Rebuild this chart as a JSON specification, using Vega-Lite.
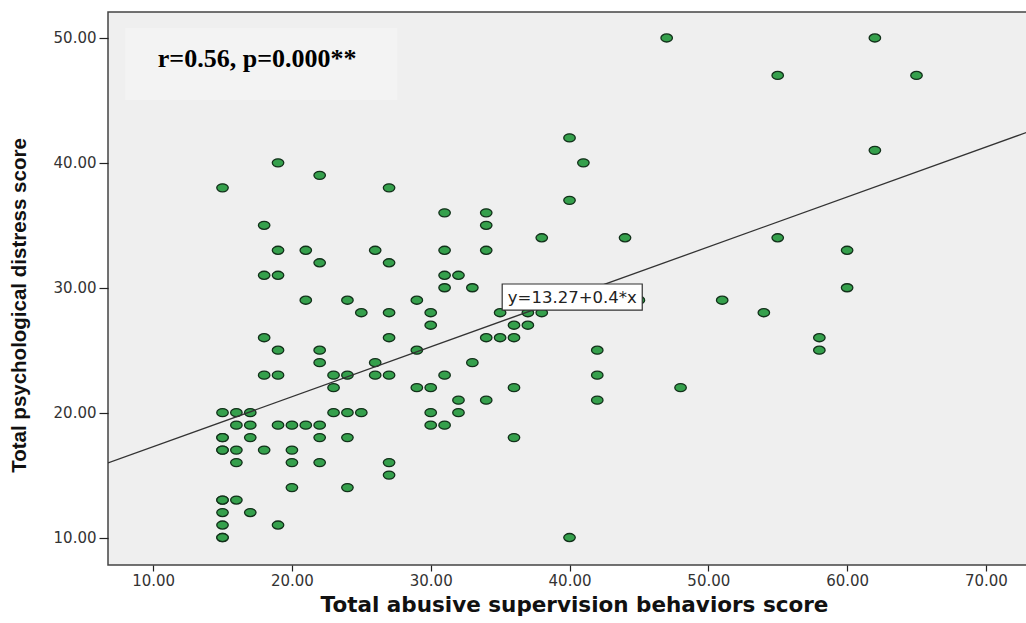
{
  "$schema": "https://vega.github.io/schema/vega-lite/v6.json",
  "width": 919,
  "height": 553,
  "autosize": {"type": "none"},
  "padding": {"left": 108, "top": 12, "right": 0, "bottom": 58},
  "background": "#ffffff",
  "config": {
    "view": {"fill": "#efefef", "stroke": "#444444", "strokeWidth": 1.5},
    "axis": {"grid": false, "domain": false, "labelFont": "DejaVu Sans", "labelFontSize": 15, "labelColor": "#333333", "tickColor": "#222222", "tickWidth": 1.2, "titleColor": "#111111"}
  },
  "datasets": {
    "points": [
      {"abuse": 15, "distress": 38}, {"abuse": 19, "distress": 40}, {"abuse": 22, "distress": 39}, {"abuse": 27, "distress": 38},
      {"abuse": 18, "distress": 35}, {"abuse": 19, "distress": 33}, {"abuse": 21, "distress": 33}, {"abuse": 22, "distress": 32},
      {"abuse": 18, "distress": 31}, {"abuse": 19, "distress": 31}, {"abuse": 21, "distress": 29}, {"abuse": 24, "distress": 29},
      {"abuse": 18, "distress": 26}, {"abuse": 19, "distress": 25}, {"abuse": 22, "distress": 25}, {"abuse": 22, "distress": 24},
      {"abuse": 18, "distress": 23}, {"abuse": 19, "distress": 23}, {"abuse": 23, "distress": 23}, {"abuse": 24, "distress": 23},
      {"abuse": 23, "distress": 22}, {"abuse": 15, "distress": 20}, {"abuse": 16, "distress": 20}, {"abuse": 17, "distress": 20},
      {"abuse": 23, "distress": 20}, {"abuse": 24, "distress": 20}, {"abuse": 25, "distress": 20}, {"abuse": 16, "distress": 19},
      {"abuse": 17, "distress": 19}, {"abuse": 19, "distress": 19}, {"abuse": 20, "distress": 19}, {"abuse": 21, "distress": 19},
      {"abuse": 22, "distress": 19}, {"abuse": 15, "distress": 18}, {"abuse": 15, "distress": 18}, {"abuse": 17, "distress": 18},
      {"abuse": 22, "distress": 18}, {"abuse": 24, "distress": 18}, {"abuse": 15, "distress": 17}, {"abuse": 15, "distress": 17},
      {"abuse": 16, "distress": 17}, {"abuse": 18, "distress": 17}, {"abuse": 20, "distress": 17}, {"abuse": 16, "distress": 16},
      {"abuse": 20, "distress": 16}, {"abuse": 22, "distress": 16}, {"abuse": 20, "distress": 14}, {"abuse": 24, "distress": 14},
      {"abuse": 15, "distress": 13}, {"abuse": 15, "distress": 13}, {"abuse": 16, "distress": 13}, {"abuse": 15, "distress": 12},
      {"abuse": 17, "distress": 12}, {"abuse": 15, "distress": 11}, {"abuse": 19, "distress": 11}, {"abuse": 15, "distress": 10},
      {"abuse": 15, "distress": 10}, {"abuse": 31, "distress": 36}, {"abuse": 34, "distress": 36}, {"abuse": 34, "distress": 35},
      {"abuse": 38, "distress": 34}, {"abuse": 26, "distress": 33}, {"abuse": 31, "distress": 33}, {"abuse": 34, "distress": 33},
      {"abuse": 27, "distress": 32}, {"abuse": 31, "distress": 31}, {"abuse": 32, "distress": 31}, {"abuse": 31, "distress": 30},
      {"abuse": 33, "distress": 30}, {"abuse": 29, "distress": 29}, {"abuse": 25, "distress": 28}, {"abuse": 27, "distress": 28},
      {"abuse": 30, "distress": 28}, {"abuse": 35, "distress": 28}, {"abuse": 37, "distress": 28}, {"abuse": 38, "distress": 28},
      {"abuse": 30, "distress": 27}, {"abuse": 36, "distress": 27}, {"abuse": 37, "distress": 27}, {"abuse": 27, "distress": 26},
      {"abuse": 34, "distress": 26}, {"abuse": 35, "distress": 26}, {"abuse": 36, "distress": 26}, {"abuse": 29, "distress": 25},
      {"abuse": 26, "distress": 24}, {"abuse": 33, "distress": 24}, {"abuse": 26, "distress": 23}, {"abuse": 27, "distress": 23},
      {"abuse": 31, "distress": 23}, {"abuse": 29, "distress": 22}, {"abuse": 30, "distress": 22}, {"abuse": 36, "distress": 22},
      {"abuse": 32, "distress": 21}, {"abuse": 34, "distress": 21}, {"abuse": 30, "distress": 20}, {"abuse": 32, "distress": 20},
      {"abuse": 30, "distress": 19}, {"abuse": 31, "distress": 19}, {"abuse": 36, "distress": 18}, {"abuse": 27, "distress": 16},
      {"abuse": 27, "distress": 15}, {"abuse": 47, "distress": 50}, {"abuse": 62, "distress": 50}, {"abuse": 55, "distress": 47},
      {"abuse": 65, "distress": 47}, {"abuse": 40, "distress": 42}, {"abuse": 41, "distress": 40}, {"abuse": 62, "distress": 41},
      {"abuse": 40, "distress": 37}, {"abuse": 44, "distress": 34}, {"abuse": 55, "distress": 34}, {"abuse": 60, "distress": 33},
      {"abuse": 60, "distress": 30}, {"abuse": 45, "distress": 29}, {"abuse": 51, "distress": 29}, {"abuse": 54, "distress": 28},
      {"abuse": 58, "distress": 26}, {"abuse": 58, "distress": 25}, {"abuse": 42, "distress": 25}, {"abuse": 42, "distress": 23},
      {"abuse": 48, "distress": 22}, {"abuse": 42, "distress": 21}, {"abuse": 40, "distress": 10}
    ],
    "fit": [
      {"abuse": 6.75, "distress": 15.97},
      {"abuse": 72.96, "distress": 42.45}
    ],
    "stats": [
      {"x": 7.98, "x2": 27.6, "y": 50.8, "y2": 45.03, "tx": 10.34, "ty": 47.7, "label": "r=0.56, p=0.000**"}
    ],
    "eq": [
      {"x": 35.15, "x2": 45.24, "y": 30.3, "y2": 28.21, "tx": 40.2, "ty": 29.2, "label": "y=13.27+0.4*x"}
    ]
  },
  "layer": [
    {
      "data": {"name": "stats"},
      "mark": {"type": "rect", "fill": "#f3f3f3"},
      "encoding": {
        "x": {"field": "x", "type": "quantitative", "scale": {"domain": [6.75, 72.96], "nice": false, "zero": false}},
        "x2": {"field": "x2"},
        "y": {"field": "y", "type": "quantitative", "scale": {"domain": [7.8, 52.08], "nice": false, "zero": false}},
        "y2": {"field": "y2"}
      }
    },
    {
      "data": {"name": "points"},
      "mark": {"type": "point", "filled": true, "shape": "M -1 0 A 1 0.7 0 1 0 1 0 A 1 0.7 0 1 0 -1 0 Z", "size": 132, "fill": "#35a04c", "fillOpacity": 1, "stroke": "#12301a", "strokeWidth": 1.3, "opacity": 1},
      "encoding": {
        "x": {"field": "abuse", "type": "quantitative", "scale": {"domain": [6.75, 72.96], "nice": false, "zero": false},
          "axis": {"values": [10, 20, 30, 40, 50, 60, 70], "format": ".2f", "tickSize": 6, "labelPadding": 2, "title": "Total abusive supervision behaviors score", "titleFont": "DejaVu Sans", "titleFontSize": 21.5, "titleFontWeight": "bold", "titlePadding": 6, "titleX": 466}},
        "y": {"field": "distress", "type": "quantitative", "scale": {"domain": [7.8, 52.08], "nice": false, "zero": false},
          "axis": {"values": [10, 20, 30, 40, 50], "format": ".2f", "tickSize": 9, "labelPadding": 3, "title": "Total psychological distress score", "titleFont": "Liberation Sans Narrow, Liberation Sans", "titleFontSize": 20.5, "titleFontWeight": "bold", "titlePadding": 24, "titleY": 293}}
      }
    },
    {
      "data": {"name": "fit"},
      "mark": {"type": "line", "color": "#333333", "strokeWidth": 1.3, "clip": true},
      "encoding": {
        "x": {"field": "abuse", "type": "quantitative"},
        "y": {"field": "distress", "type": "quantitative"}
      }
    },
    {
      "data": {"name": "eq"},
      "mark": {"type": "rect", "fill": "#ffffff", "stroke": "#333333", "strokeWidth": 1.2},
      "encoding": {
        "x": {"field": "x", "type": "quantitative"},
        "x2": {"field": "x2"},
        "y": {"field": "y", "type": "quantitative"},
        "y2": {"field": "y2"}
      }
    },
    {
      "data": {"name": "eq"},
      "mark": {"type": "text", "font": "DejaVu Sans", "fontSize": 16.5, "color": "#222222", "align": "center", "baseline": "middle"},
      "encoding": {
        "x": {"field": "tx", "type": "quantitative"},
        "y": {"field": "ty", "type": "quantitative"},
        "text": {"field": "label"}
      }
    },
    {
      "data": {"name": "stats"},
      "mark": {"type": "text", "font": "Liberation Serif", "fontSize": 26, "fontWeight": "bold", "color": "#000000", "align": "left", "baseline": "alphabetic"},
      "encoding": {
        "x": {"field": "tx", "type": "quantitative"},
        "y": {"field": "ty", "type": "quantitative"},
        "text": {"field": "label"}
      }
    }
  ]
}
